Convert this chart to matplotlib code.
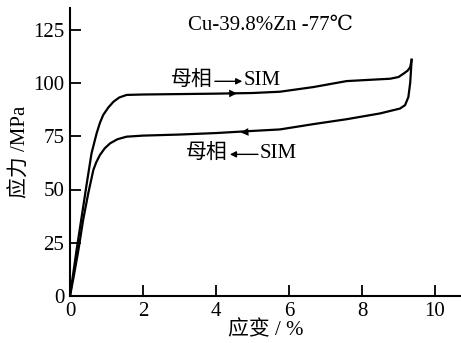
import numpy as np
import matplotlib
matplotlib.use('Agg')
import matplotlib.pyplot as plt

# loading branch (parent -> SIM)
load_strain = [0, 0.18, 0.32, 0.46, 0.59, 0.73, 0.82, 0.91, 1.05, 1.19, 1.35, 1.55, 2.0, 3.0, 4.0, 5.0,
               5.75, 6.67, 7.58, 8.22, 8.77, 9.0, 9.13, 9.25, 9.32, 9.36]
load_stress = [0, 21.6, 37.2, 52.9, 67.0, 76.4, 81.3, 85.0, 88.5, 91.2, 93.2, 94.4, 94.6, 94.8, 95.0, 95.3,
               95.9, 98.1, 100.9, 101.5, 102.0, 102.8, 104.3, 105.8, 107.4, 110.9]

# unloading branch (SIM -> parent)
unload_strain = [9.36, 9.32, 9.27, 9.18, 9.04, 8.49, 7.58, 6.67, 5.75, 5.0, 4.0, 3.0, 2.0, 1.55,
                 1.3, 1.1, 0.95, 0.82, 0.72, 0.64, 0.5, 0.36, 0.23, 0.1, 0]
unload_stress = [110.9, 100.0, 93.4, 89.6, 88.0, 85.7, 83.0, 80.7, 78.2, 77.5, 76.5, 75.8, 75.3, 74.8,
                 73.6, 71.7, 69.3, 66.2, 62.8, 59.2, 48.2, 35.7, 21.6, 9.0, 0]

xticks = [0, 2, 4, 6, 8, 10]
yticks = [0, 25, 50, 75, 100, 125]

fonts = ['Liberation Serif', 'DejaVu Serif', 'Noto Sans CJK SC', 'DejaVu Sans']
plt.rcParams['font.family'] = fonts
fs = 15

fig = plt.figure(figsize=(4.61, 3.43), dpi=100)
ax = fig.add_axes([70 / 461, 47 / 343, 391 / 461, 288 / 343])

ax.plot(load_strain, load_stress, color='black', lw=1.6, solid_joinstyle='round')
ax.plot(unload_strain, unload_stress, color='black', lw=1.6, solid_joinstyle='round')

# direction arrows on the curves
ax.annotate('', xy=(4.65, 95.15), xytext=(4.2, 95.05),
            arrowprops=dict(arrowstyle='-|>', color='black', lw=0, mutation_scale=14))
ax.annotate('', xy=(4.6, 76.7), xytext=(5.05, 77.2),
            arrowprops=dict(arrowstyle='-|>', color='black', lw=0, mutation_scale=14))

ax.text(5.5, 127, 'Cu-39.8%Zn -77℃', fontsize=fs, ha='center', va='center')

# 母相 -> SIM
ax.text(3.9, 101.4, '母相', fontsize=fs, ha='right', va='center')
ax.annotate('', xy=(4.72, 100.8), xytext=(3.97, 100.8),
            arrowprops=dict(arrowstyle='-|>', color='black', lw=1.0, mutation_scale=9,
                            shrinkA=0, shrinkB=0))
ax.text(4.76, 101.4, 'SIM', fontsize=fs, ha='left', va='center')

# 母相 <- SIM
ax.text(4.33, 67.1, '母相', fontsize=fs, ha='right', va='center')
ax.annotate('', xy=(4.38, 66.5), xytext=(5.15, 66.5),
            arrowprops=dict(arrowstyle='-|>', color='black', lw=1.0, mutation_scale=9,
                            shrinkA=0, shrinkB=0))
ax.text(5.2, 67.1, 'SIM', fontsize=fs, ha='left', va='center')

ax.set_xlim(0, 391 / 36.5)
ax.set_ylim(0, 288 / 2.13)
ax.set_xticks(xticks)
ax.set_yticks(yticks)
ax.tick_params(direction='in', length=8, width=1.3, labelsize=fs, pad=4)
for s in ['top', 'right']:
    ax.spines[s].set_visible(False)
for s in ['left', 'bottom']:
    ax.spines[s].set_linewidth(1.5)

ax.set_xlabel('应变 / %', fontsize=fs, labelpad=0)
ax.set_ylabel('应力 /MPa', fontsize=fs, labelpad=2)

fig.savefig('out.png', dpi=100)
